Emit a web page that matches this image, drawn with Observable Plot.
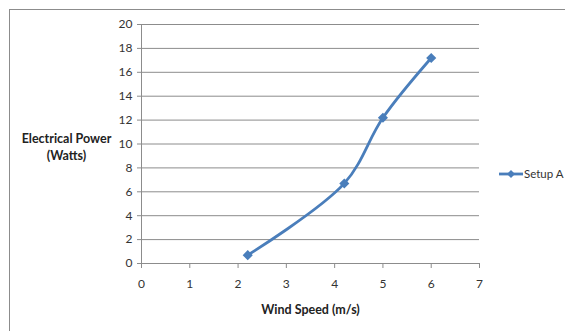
<!DOCTYPE html>
<html>
<head>
<meta charset="utf-8">
<script src="https://cdn.jsdelivr.net/npm/d3@7"></script>
<script src="https://cdn.jsdelivr.net/npm/@observablehq/plot@0.6"></script>
<style>
  html, body { margin: 0; padding: 0; background: #fff; }
  #wrap { position: relative; width: 565px; height: 331px; overflow: hidden; }
  #frame { position: absolute; left: 9px; top: 9px; width: 600px; height: 400px;
           border-left: 1px solid #8c8c8c; border-top: 1px solid #8c8c8c; }
  #chart { position: absolute; left: 0; top: 0; }
</style>
</head>
<body>
<div id="wrap"><div id="frame"></div><div id="chart"></div></div>
<script>
const windSpeed = [2.2, 4.2, 5, 6];
const power = [0.7, 6.7, 12.2, 17.2];
const seriesName = "Setup A";
const xTicks = [0, 1, 2, 3, 4, 5, 6, 7];
const yTicks = [0, 2, 4, 6, 8, 10, 12, 14, 16, 18, 20];
const xLabel = "Wind Speed (m/s)";
const yLabel = "Electrical Power\n(Watts)";

const data = windSpeed.map((x, i) => ({x, y: power[i]}));
const blue = "#4a7ebb";
const gray = "#8c8c8c";
const font = "Lato, 'Open Sans', sans-serif";

const chart = Plot.plot({
  width: 565, height: 331,
  marginLeft: 141, marginRight: 86, marginTop: 24, marginBottom: 68,
  style: {fontFamily: font, fontSize: "12px", color: "#333"},
  x: {domain: [0, 7]},
  y: {domain: [0, 20]},
  marks: [
    Plot.gridY(yTicks, {stroke: gray, strokeOpacity: 1}),
    Plot.axisY(yTicks, {tickSize: 4, tickPadding: 5, label: null, stroke: gray, fill: "#333", fontSize: 12}),
    Plot.axisX(xTicks, {tickSize: 5, tickPadding: 11, label: null, stroke: gray, fill: "#333", fontSize: 12}),
    Plot.ruleX([0], {stroke: gray}),
    Plot.ruleY([0], {stroke: gray}),
    Plot.line(data, {x: "x", y: "y", curve: "catmull-rom", stroke: blue, strokeWidth: 2.8}),
    Plot.dot(data, {x: "x", y: "y", symbol: "diamond2", fill: blue, stroke: blue, r: 3.6}),
    Plot.text([xLabel], {frameAnchor: "bottom", dy: 50, fontWeight: "bold", fill: "#222", fontSize: 12.5}),
    Plot.text([yLabel], {frameAnchor: "left", dx: -75, dy: 2, textAnchor: "middle", lineHeight: 1.35, fontWeight: "bold", fill: "#222", fontSize: 12.5})
  ]
});

// legend
const svg = d3.select(chart);
const lg = svg.append("g").attr("transform", "translate(499,174)");
lg.append("line").attr("x1", 0).attr("x2", 24).attr("y1", 0).attr("y2", 0)
  .attr("stroke", blue).attr("stroke-width", 2.8);
lg.append("path").attr("d", d3.symbol(d3.symbolDiamond2, 40)()).attr("transform", "translate(12,0)")
  .attr("fill", blue);
lg.append("text").attr("x", 25).attr("y", 0).attr("dy", "0.35em").attr("text-anchor", "start")
  .attr("font-family", font).attr("font-size", 11.5).attr("fill", "#333").text(seriesName);

document.getElementById("chart").appendChild(chart);
</script>
</body>
</html>
